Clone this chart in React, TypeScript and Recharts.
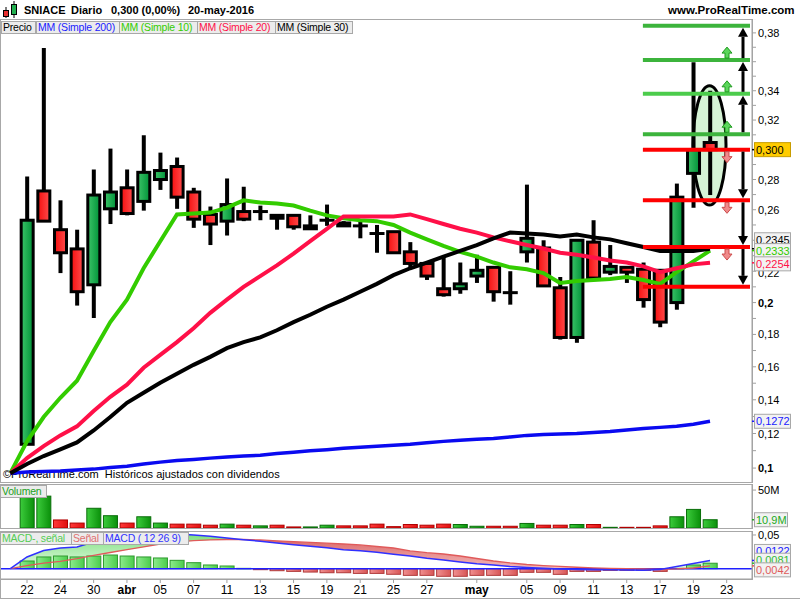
import React from 'react'
import {
  ComposedChart,
  Bar,
  Line,
  Area,
  XAxis,
  YAxis,
  ReferenceLine,
  ReferenceArea,
  ReferenceDot,
} from 'recharts'

const FONT = '"Liberation Sans", Arial, sans-serif'

// ProRealTime's price axis is a bit compressed at the top, a pow scale (0.85) fits it
const EXP = 0.85
const T = (v: number) => Math.pow(v, EXP)
const INV = (t: number) => Math.pow(t, 1 / EXP)

const X_MIN = -1.561
const X_MAX = 43.52

// 42 sessions, 22-mar-2016 .. 20-may-2016
const OPEN = [
  0.1137, 0.2724, 0.2469, 0.2344, 0.2113, 0.2606, 0.2745, 0.2655, 0.28, 0.2887,
  0.2717, 0.2569, 0.2525, 0.2588, 0.2588, 0.2563, 0.2563, 0.2475, 0.2531, 0.2513,
  0.2494, 0.2444, 0.2456, 0.2325, 0.225, 0.2088, 0.2088, 0.2169, 0.2225, 0.2063,
  0.2325, 0.235, 0.2094, 0.1781, 0.2388, 0.2194, 0.2225, 0.2213, 0.2206, 0.2,
  0.2841, 0.3048,
]
const HIGH = [
  0.282, 0.3695, 0.2662, 0.2469, 0.2867, 0.3007, 0.2867, 0.3097, 0.298, 0.2947,
  0.2745, 0.2621, 0.2807, 0.2752, 0.2627, 0.2569, 0.2563, 0.2563, 0.2634, 0.2525,
  0.2538, 0.25, 0.2456, 0.2388, 0.225, 0.2294, 0.2256, 0.2306, 0.2225, 0.22,
  0.2766, 0.24, 0.2163, 0.24, 0.2531, 0.2369, 0.2225, 0.2256, 0.2206, 0.2773,
  0.3596, 0.34,
]
const LOW = [
  0.1137, 0.2525, 0.2188, 0.1981, 0.1903, 0.2506, 0.2563, 0.2594, 0.2731, 0.2606,
  0.2481, 0.2369, 0.2431, 0.2525, 0.2531, 0.2469, 0.2469, 0.2475, 0.2494, 0.2494,
  0.2413, 0.2319, 0.2319, 0.2219, 0.2144, 0.2038, 0.2056, 0.2125, 0.2006, 0.1987,
  0.2256, 0.2106, 0.1768, 0.1748, 0.2156, 0.2175, 0.2125, 0.1968, 0.1845, 0.1955,
  0.2613, 0.2697,
]
const CLOSE = [
  0.2531, 0.2525, 0.2319, 0.2069, 0.2697, 0.2717, 0.2575, 0.2848, 0.286, 0.2683,
  0.2538, 0.2506, 0.2634, 0.2538, 0.2588, 0.2544, 0.2488, 0.2494, 0.2531, 0.2494,
  0.2494, 0.2444, 0.2319, 0.225, 0.2169, 0.205, 0.2119, 0.2206, 0.2069, 0.2063,
  0.2413, 0.2106, 0.1781, 0.24, 0.2156, 0.2231, 0.2194, 0.2019, 0.1877, 0.2683,
  0.3, 0.3,
]

// moving averages: first value is the last bar before the suspension ended (index -1)
const MA200 = [
  0.0971, 0.0977, 0.098, 0.0983, 0.0989, 0.0994, 0.1003, 0.1011, 0.1023, 0.1034,
  0.1043, 0.1049, 0.1057, 0.1063, 0.1069, 0.1074, 0.1083, 0.1091, 0.11, 0.1106,
  0.1114, 0.112, 0.1126, 0.1131, 0.1137, 0.1146, 0.1154, 0.116, 0.1166, 0.1171,
  0.118, 0.1189, 0.1194, 0.1197, 0.12, 0.1206, 0.1212, 0.1221, 0.123, 0.1236,
  0.1242, 0.1255, 0.1272,
]
const MA10 = [
  0.0971, 0.1154, 0.1297, 0.1412, 0.1515, 0.1697, 0.1877, 0.2019, 0.2219, 0.2394,
  0.2569, 0.2575, 0.2581, 0.2614, 0.2662, 0.2648, 0.2641, 0.2628, 0.2594, 0.2563,
  0.2544, 0.2531, 0.2525, 0.25, 0.245, 0.2406, 0.2363, 0.2325, 0.2294, 0.2256,
  0.2225, 0.2213, 0.2188, 0.2125, 0.2138, 0.2144, 0.215, 0.2163, 0.2144, 0.2119,
  0.2194, 0.2263, 0.2333,
]
const MA20 = [
  0.0971, 0.1057, 0.1126, 0.1189, 0.1242, 0.1333, 0.1418, 0.1491, 0.1594, 0.1673,
  0.1752, 0.1839, 0.1935, 0.2019, 0.21, 0.2169, 0.2238, 0.2313, 0.2394, 0.2475,
  0.2556, 0.2556, 0.2556, 0.2556, 0.2569, 0.2538, 0.2506, 0.2475, 0.245, 0.2419,
  0.2394, 0.2369, 0.2347, 0.2319, 0.2306, 0.2288, 0.2269, 0.2256, 0.2231, 0.2194,
  0.2219, 0.2244, 0.2254,
]
const MA30 = [
  0.0971, 0.1023, 0.1069, 0.1108, 0.1148, 0.1218, 0.1297, 0.1382, 0.1442, 0.1503,
  0.1558, 0.1612, 0.1661, 0.1715, 0.1752, 0.1782, 0.1826, 0.1877, 0.1923, 0.1974,
  0.2019, 0.2069, 0.2119, 0.2175, 0.2219, 0.2256, 0.2294, 0.2331, 0.2369, 0.2413,
  0.245, 0.2444, 0.2438, 0.2425, 0.2438, 0.2419, 0.2406, 0.2381, 0.2356, 0.2331,
  0.2331, 0.2331, 0.2345,
]

// volume in millions, 1 = green bar
const VOLUME = [
  42, 42, 10.6, 6.5, 26, 16.2, 6.5, 14.8, 6.5, 5.1,
  5.1, 3.7, 5.1, 3.7, 2.8, 3.7, 1.4, 1.4, 3.7, 2.8,
  2.8, 5.1, 1.8, 4.6, 3.7, 5.1, 4.6, 2.3, 2.3, 2.3,
  6, 3.7, 3.7, 4.6, 4.6, 0.9, 0.9, 0.9, 2.8, 14.8,
  24.5, 10.9,
]
const VOL_UP = [
  1, 1, 0, 0, 1, 1, 0, 1, 1, 0,
  0, 0, 1, 0, 1, 0, 0, 1, 1, 0,
  0, 0, 0, 0, 0, 0, 1, 1, 0, 0,
  1, 0, 0, 1, 0, 1, 0, 0, 0, 1,
  1, 1,
]

// MACD (12 26 9), lines start at index -1
const MACD = [
  0, 0.0174, 0.027, 0.0307, 0.0322, 0.0396, 0.0448, 0.0493, 0.0519, 0.0519,
  0.0515, 0.05, 0.048, 0.0455, 0.043, 0.0407, 0.0381, 0.0356, 0.0332, 0.0312,
  0.0282, 0.0267, 0.0243, 0.0214, 0.0188, 0.0154, 0.0129, 0.0099, 0.0074, 0.0055,
  0.0031, 0.0018, 0.0007, -0.0004, -0.0012, -0.0015, -0.0016, -0.0019, -0.0022, -0.0012,
  0.0033, 0.0077, 0.0122,
]
const SIGNAL = [
  0, 0.0047, 0.0082, 0.0107, 0.0148, 0.0196, 0.024, 0.0282, 0.0322, 0.0366,
  0.0396, 0.0415, 0.0426, 0.0433, 0.0433, 0.0426, 0.0414, 0.04, 0.0389, 0.0378,
  0.0366, 0.0352, 0.0329, 0.0307, 0.0263, 0.0237, 0.0218, 0.0188, 0.0151, 0.0114,
  0.0085, 0.0062, 0.0045, 0.0033, 0.0021, 0.0012, 0.0006, 0.0001, -0.0004, -0.0009,
  -0.0004, 0.001, 0.0042,
]
const HIST = [
  0.0114, 0.0174, 0.0188, 0.0174, 0.0188, 0.0203, 0.0188, 0.0174, 0.0159, 0.0124,
  0.0089, 0.0055, 0.004, 0.0005, -0.0015, -0.003, -0.004, -0.005, -0.006, -0.006,
  -0.007, -0.007, -0.0083, -0.0099, -0.0099, -0.0113, -0.0113, -0.0099, -0.0099, -0.0099,
  -0.0054, -0.0054, -0.0084, -0.004, -0.004, -0.0025, -0.0025, -0.0025, -0.004, 0.0005,
  0.0055, 0.0081,
]

// drawn support / resistance levels
const GREEN_LEVELS = [0.3849, 0.3611, 0.3379, 0.3104]
const RED_LEVELS = [0.3, 0.2662, 0.2356, 0.21]
const OVAL = { x1: 39.98, x2: 41.96, lo: 0.2631, hi: 0.3435 }

const PRICE_TICKS = [
  0.1, 0.11, 0.12, 0.13, 0.14, 0.15, 0.16, 0.17, 0.18, 0.19, 0.2, 0.21, 0.22, 0.23, 0.24,
  0.25, 0.26, 0.27, 0.28, 0.29, 0.3, 0.31, 0.32, 0.33, 0.34, 0.35, 0.36, 0.37, 0.38, 0.39,
]
// 0,24 / 0,30 / 0,36 sit under the value boxes in the original, so they are not written
const PRICE_LABELED = [0.1, 0.12, 0.14, 0.16, 0.18, 0.2, 0.22, 0.26, 0.28, 0.32, 0.34, 0.38]
const PRICE_LABEL_TEXT = ['0,1', '0,12', '0,14', '0,16', '0,18', '0,2', '0,22', '0,26', '0,28', '0,32', '0,34', '0,38']

const X_TICKS = [0, 2, 4, 6, 8, 10, 12, 14, 16, 18, 20, 22, 24, 27, 30, 32, 34, 36, 38, 40, 42]
const X_TICK_TEXT = ['22', '24', '30', 'abr', '05', '07', '11', '13', '15', '19', '21', '25', '27', 'may', '05', '09', '11', '13', '17', '19', '23']

const priceRows = MA10.map((_, k) => {
  const i = k - 1
  const row: any = {
    x: i,
    ma200: T(MA200[k]),
    ma10: T(MA10[k]),
    ma20: T(MA20[k]),
    ma30: T(MA30[k]),
  }
  if (i >= 0) {
    row.o = OPEN[i]
    row.h = HIGH[i]
    row.l = LOW[i]
    row.c = CLOSE[i]
    row.range = [T(LOW[i]), T(HIGH[i])]
  }
  return row
})

const volRows = VOLUME.map((v, i) => ({ x: i, vol: v, up: VOL_UP[i] === 1 }))

const macdRows = MACD.map((m, k) => {
  const i = k - 1
  const s = SIGNAL[k]
  const row: any = {
    x: i,
    macd: m,
    sig: s,
    upBand: m >= s ? [s, m] : [s, s],
    dnBand: m < s ? [m, s] : [s, s],
  }
  if (i >= 0) row.hist = HIST[i]
  return row
})

const Candle = (p: any) => {
  const { x, y, width, height, payload } = p
  if (!payload || payload.o == null || !isFinite(y)) return null
  const top = Math.min(y, y + height)
  const h = Math.abs(height)
  const hiT = T(payload.h)
  const loT = T(payload.l)
  const py = (v: number) => top + ((hiT - T(v)) / (hiT - loT || 1)) * h
  const cx = x + width / 2
  const yo = py(payload.o)
  const yc = py(payload.c)
  const up = payload.c > payload.o
  const flat = payload.c === payload.o
  return (
    <g>
      <line x1={cx} x2={cx} y1={top} y2={top + h} stroke="#000" strokeWidth={4} />
      {flat ? (
        <line x1={x} x2={x + width} y1={yo} y2={yo} stroke="#000" strokeWidth={3} />
      ) : (
        <rect
          x={x + 1.5}
          y={Math.min(yo, yc)}
          width={width - 3}
          height={Math.max(Math.abs(yo - yc), 1)}
          fill={up ? 'url(#candleUp)' : 'url(#candleDown)'}
          stroke="#000"
          strokeWidth={3}
        />
      )}
    </g>
  )
}

const VolBar = (p: any) => {
  const { x, y, width, height, payload } = p
  if (!payload || !isFinite(y)) return null
  const top = Math.min(y, y + height)
  return (
    <rect
      x={x + 0.5}
      y={top}
      width={width - 1}
      height={Math.abs(height)}
      fill={payload.up ? 'url(#volUp)' : 'url(#volDown)'}
      stroke={payload.up ? '#0a6e0a' : '#b00000'}
      strokeWidth={1}
    />
  )
}

const HistBar = (p: any) => {
  const { x, y, width, height, payload } = p
  if (!payload || payload.hist == null || !isFinite(y)) return null
  const top = Math.min(y, y + height)
  const pos = payload.hist >= 0
  return (
    <rect
      x={x + 0.5}
      y={top}
      width={width - 1}
      height={Math.max(Math.abs(height), 0.5)}
      fill={pos ? 'url(#histUp)' : 'url(#histDown)'}
      stroke={pos ? '#2f9a2f' : '#b03a3a'}
      strokeWidth={1}
    />
  )
}

const BigArrow = (p: any) => {
  const { x1, y1, y2 } = p
  if (!isFinite(y1) || !isFinite(y2)) return null
  const dir = y2 < y1 ? -1 : 1
  const tip = y2 - dir * 2
  const start = y1 + dir * 2
  const base = tip - dir * 9
  return (
    <g>
      <line x1={x1} x2={x1} y1={start} y2={base} stroke="#000" strokeWidth={3} />
      <polygon points={`${x1 - 5},${base} ${x1 + 5},${base} ${x1},${tip}`} fill="#000" />
    </g>
  )
}

const SmallArrow = (p: any) => {
  const { cx, cy, up } = p
  if (!isFinite(cx) || !isFinite(cy)) return null
  const d = up ? -1 : 1
  const a = cy + d * 2
  const m = cy + d * 7
  const t = cy + d * 13
  const pts = [
    [cx - 2, a], [cx + 2, a], [cx + 2, m], [cx + 5, m], [cx, t], [cx - 5, m], [cx - 2, m],
  ]
  return (
    <polygon
      points={pts.map((q) => q.join(',')).join(' ')}
      fill={up ? '#5bd65b' : '#f08a8a'}
      stroke={up ? '#1f9a1f' : '#cc4b4b'}
      strokeWidth={1}
    />
  )
}

const ValueBox = (p: any) => {
  const { viewBox, boxText, color, bg = '#f2f2f2', border = '#a8a8a8', shift = 0, w = 36 } = p
  if (!viewBox) return null
  const ax = viewBox.x + viewBox.width
  const cy = viewBox.y + shift
  return (
    <g>
      <line x1={ax} x2={ax + 4} y1={viewBox.y} y2={viewBox.y} stroke={color} strokeWidth={1.5} />
      <rect x={ax + 2.5} y={cy - 7} width={w} height={14} fill={bg} stroke={border} />
      <text x={ax + 4} y={cy + 4} fontSize={11} fill={color} fontFamily={FONT}>
        {boxText}
      </text>
    </g>
  )
}

const PriceTick = (p: any) => {
  const { x, y, payload } = p
  const v = INV(payload.value)
  const idx = PRICE_LABELED.findIndex((t) => Math.abs(t - v) < 0.001)
  if (idx < 0) return null
  const txt = PRICE_LABEL_TEXT[idx]
  const bold = txt === '0,2' || txt === '0,1'
  return (
    <text x={x} y={y} dy={txt === '0,22' ? 6 : 4} fontSize={11} fill="#000" fontWeight={bold ? 'bold' : 'normal'} fontFamily={FONT}>
      {txt}
    </text>
  )
}

const SimpleTick = (p: any) => {
  const { x, y, label } = p
  return (
    <text x={x} y={y} dy={4} fontSize={11} fill="#000" fontFamily={FONT}>
      {label}
    </text>
  )
}

const XTick = (p: any) => {
  const { x, y, payload } = p
  const idx = X_TICKS.indexOf(payload.value)
  const txt = X_TICK_TEXT[idx]
  const bold = txt === 'abr' || txt === 'may'
  return (
    <text x={x} y={y} dy={9} textAnchor="middle" fontSize={12} fill="#000" fontWeight={bold ? 'bold' : 'normal'} fontFamily={FONT}>
      {txt}
    </text>
  )
}

const box = (left: number, top: number, width: number, height: number): React.CSSProperties => ({
  position: 'absolute',
  left,
  top,
  width,
  height,
  boxSizing: 'border-box',
  border: '1px solid #a8a8a8',
})

const tag = (left: number, width: number, color: string): React.CSSProperties => ({
  position: 'absolute',
  left,
  top: 0,
  width,
  height: 13,
  boxSizing: 'border-box',
  border: '1px solid #a8a8a8',
  background: '#ececec',
  color,
  fontSize: 10.5,
  letterSpacing: -0.2,
  lineHeight: '11px',
  paddingLeft: 1,
  whiteSpace: 'nowrap',
  overflow: 'hidden',
})

export default function App() {
  return (
    <div style={{ position: 'absolute', left: 0, top: 0, width: 800, height: 600, background: '#fff', fontFamily: FONT, overflow: 'hidden' }}>
      {/* frames */}
      <div style={box(0, 19, 753, 464)} />
      <div style={box(0, 484, 753, 45)} />
      <div style={box(0, 531, 753, 49)} />
      <div style={{ position: 'absolute', left: 0, top: 598, width: 800, height: 1, background: '#a8a8a8' }} />
      <div style={{ position: 'absolute', left: 0, top: 579, width: 1, height: 20, background: '#a8a8a8' }} />

      {/* header */}
      <svg width={20} height={19} style={{ position: 'absolute', left: 0, top: 0 }}>
        <line x1={6} x2={6} y1={7} y2={18} stroke="#000" />
        <rect x={3.5} y={10.5} width={5} height={6} fill="#e83030" stroke="#000" />
        <line x1={14} x2={14} y1={1} y2={18} stroke="#000" />
        <rect x={11.5} y={4.5} width={5} height={10} fill="#22b050" stroke="#000" />
      </svg>
      <div style={{ position: 'absolute', left: 24, top: 4, fontSize: 11, fontWeight: 'bold', whiteSpace: 'nowrap' }}>SNIACE</div>
      <div style={{ position: 'absolute', left: 71, top: 4, fontSize: 11, fontWeight: 'bold', whiteSpace: 'nowrap' }}>Diario</div>
      <div style={{ position: 'absolute', left: 111, top: 4, fontSize: 11, fontWeight: 'bold', whiteSpace: 'nowrap' }}>0,300 (0,00%)</div>
      <div style={{ position: 'absolute', left: 188, top: 4, fontSize: 11, fontWeight: 'bold', whiteSpace: 'nowrap' }}>20-may-2016</div>
      <div style={{ position: 'absolute', left: 668, top: 4, fontSize: 11.5, fontWeight: 'bold', whiteSpace: 'nowrap' }}>www.ProRealTime.com</div>

      <div style={{ position: 'absolute', left: 3, top: 468, fontSize: 11, whiteSpace: 'nowrap', color: '#000' }}>
        ©ProRealTime.com&nbsp; Históricos ajustados con dividendos
      </div>

      {/* price pane */}
      <div style={{ position: 'absolute', left: 0, top: 19 }}>
        <ComposedChart width={800} height={463} data={priceRows} margin={{ top: 0, right: 0, bottom: 0, left: 1 }}>
          <defs>
            <linearGradient id="candleUp" x1="0" y1="0" x2="1" y2="0">
              <stop offset="0%" stopColor="#3cc468" />
              <stop offset="100%" stopColor="#009238" />
            </linearGradient>
            <linearGradient id="candleDown" x1="0" y1="0" x2="1" y2="0">
              <stop offset="0%" stopColor="#f50f0f" />
              <stop offset="100%" stopColor="#ff4c4c" />
            </linearGradient>
          </defs>
          <XAxis dataKey="x" type="number" domain={[X_MIN, X_MAX]} allowDataOverflow hide />
          <YAxis
            orientation="right"
            type="number"
            width={48}
            domain={[T(0.0921), T(0.3897)]}
            allowDataOverflow
            ticks={PRICE_TICKS.map(T)}
            interval={0}
            tick={<PriceTick />}
            tickSize={4}
            tickMargin={2}
            stroke="#a0a0a0"
          />
          <ReferenceArea
            x1={OVAL.x1}
            x2={OVAL.x2}
            y1={T(OVAL.lo)}
            y2={T(OVAL.hi)}
            shape={(p: any) => (
              <ellipse
                cx={p.x + p.width / 2}
                cy={p.y + p.height / 2}
                rx={Math.abs(p.width) / 2}
                ry={Math.abs(p.height) / 2}
                fill="#d6f3d6"
                stroke="#000"
                strokeWidth={3}
              />
            )}
          />
          <Bar dataKey="range" barSize={15} shape={(p: any) => <Candle {...p} />} isAnimationActive={false} />
          <Line dataKey="ma200" stroke="#0a0af0" strokeWidth={3.5} dot={false} activeDot={false} isAnimationActive={false} />
          <Line dataKey="ma10" stroke="#33cc00" strokeWidth={4} dot={false} activeDot={false} isAnimationActive={false} />
          <Line dataKey="ma20" stroke="#ff1048" strokeWidth={4} dot={false} activeDot={false} isAnimationActive={false} />
          <Line dataKey="ma30" stroke="#000000" strokeWidth={4} dot={false} activeDot={false} isAnimationActive={false} />

          {GREEN_LEVELS.map((v, i) => (
            <ReferenceLine
              key={'g' + i}
              segment={[{ x: 36.97, y: T(v) }, { x: 43.4, y: T(v) }]}
              stroke={i === 2 ? '#4ccc4c' : '#3cb43c'}
              strokeWidth={4}
            />
          ))}
          {RED_LEVELS.map((v, i) => (
            <ReferenceLine key={'r' + i} segment={[{ x: 36.97, y: T(v) }, { x: 43.4, y: T(v) }]} stroke="#ff0000" strokeWidth={4} />
          ))}
          {GREEN_LEVELS.slice(1).map((v, i) => (
            <ReferenceLine
              key={'ua' + i}
              segment={[{ x: 42.98, y: T(v) }, { x: 42.98, y: T(GREEN_LEVELS[i]) }]}
              shape={(p: any) => <BigArrow {...p} />}
            />
          ))}
          {RED_LEVELS.slice(0, 3).map((v, i) => (
            <ReferenceLine
              key={'da' + i}
              segment={[{ x: 42.98, y: T(v) }, { x: 42.98, y: T(RED_LEVELS[i + 1]) }]}
              shape={(p: any) => <BigArrow {...p} />}
            />
          ))}
          {GREEN_LEVELS.slice(1).map((v, i) => (
            <ReferenceDot key={'us' + i} x={42.02} y={T(v)} shape={(p: any) => <SmallArrow {...p} up />} />
          ))}
          {RED_LEVELS.slice(0, 3).map((v, i) => (
            <ReferenceDot key={'ds' + i} x={42.02} y={T(v)} shape={(p: any) => <SmallArrow {...p} up={false} />} />
          ))}

          <ReferenceLine y={T(0.3)} stroke="none" zIndex={2500} label={<ValueBox boxText="0,300" color="#000" bg="#ffcc00" border="#c89c00" />} />
          <ReferenceLine y={T(0.2345)} stroke="none" zIndex={2500} label={<ValueBox boxText="0,2345" color="#000" shift={-9} />} />
          <ReferenceLine y={T(0.2333)} stroke="none" zIndex={2500} label={<ValueBox boxText="0,2333" color="#33cc00" />} />
          <ReferenceLine y={T(0.2254)} stroke="none" zIndex={2500} label={<ValueBox boxText="0,2254" color="#ff1048" shift={1} />} />
          <ReferenceLine y={T(0.1272)} stroke="none" zIndex={2500} label={<ValueBox boxText="0,1272" color="#1a1aff" />} />
        </ComposedChart>
      </div>

      <div style={{ position: 'absolute', left: 1, top: 21, height: 13, width: 360 }}>
        <div style={tag(0, 35, '#000')}>Precio</div>
        <div style={tag(35, 84, '#1a1aff')}>MM (Simple 200)</div>
        <div style={tag(118, 79, '#33cc00')}>MM (Simple 10)</div>
        <div style={tag(196, 79, '#ff1048')}>MM (Simple 20)</div>
        <div style={tag(274, 78, '#000')}>MM (Simple 30)</div>
      </div>

      {/* volume pane */}
      <div style={{ position: 'absolute', left: 0, top: 484 }}>
        <ComposedChart width={800} height={44} data={volRows} margin={{ top: 0, right: 0, bottom: 0, left: 1 }}>
          <defs>
            <linearGradient id="volUp" x1="0" y1="0" x2="1" y2="0">
              <stop offset="0%" stopColor="#3ccc3c" />
              <stop offset="100%" stopColor="#0a900a" />
            </linearGradient>
            <linearGradient id="volDown" x1="0" y1="0" x2="1" y2="0">
              <stop offset="0%" stopColor="#ff3a3a" />
              <stop offset="100%" stopColor="#e01010" />
            </linearGradient>
          </defs>
          <XAxis dataKey="x" type="number" domain={[X_MIN, X_MAX]} allowDataOverflow hide />
          <YAxis
            orientation="right"
            type="number"
            width={48}
            domain={[0, 58]}
            allowDataOverflow
            ticks={[50]}
            interval={0}
            tick={<SimpleTick label="50M" />}
            tickSize={4}
            tickMargin={2}
            stroke="#a0a0a0"
          />
          <Bar dataKey="vol" barSize={15} shape={(p: any) => <VolBar {...p} />} isAnimationActive={false} />
          <ReferenceLine y={10.9} stroke="none" zIndex={2500} label={<ValueBox boxText="10,9M" color="#22aa22" w={33} shift={0} />} />
        </ComposedChart>
      </div>
      <div style={{ position: 'absolute', left: 0, top: 485, height: 13 }}>
        <div style={tag(0, 47, '#22a022')}>Volumen</div>
      </div>

      {/* MACD pane (svg starts 7px higher so the 0,05 label is not clipped) */}
      <div style={{ position: 'absolute', left: 0, top: 524 }}>
        <ComposedChart width={800} height={76} data={macdRows} margin={{ top: 7, right: 0, bottom: 0, left: 1 }}>
          <defs>
            <linearGradient id="gBand" x1="0" y1="0" x2="0" y2="1">
              <stop offset="0%" stopColor="#6fdc6f" />
              <stop offset="100%" stopColor="#e4fae4" />
            </linearGradient>
            <linearGradient id="rBand" x1="0" y1="0" x2="0" y2="1">
              <stop offset="0%" stopColor="#d85a5a" />
              <stop offset="100%" stopColor="#f4b4b4" />
            </linearGradient>
            <linearGradient id="histUp" x1="0" y1="0" x2="1" y2="0">
              <stop offset="0%" stopColor="#8ceb8c" />
              <stop offset="100%" stopColor="#4ccc4c" />
            </linearGradient>
            <linearGradient id="histDown" x1="0" y1="0" x2="1" y2="0">
              <stop offset="0%" stopColor="#f09090" />
              <stop offset="100%" stopColor="#d85656" />
            </linearGradient>
          </defs>
          <XAxis
            dataKey="x"
            type="number"
            domain={[X_MIN, X_MAX]}
            allowDataOverflow
            ticks={X_TICKS}
            interval={0}
            tick={<XTick />}
            tickSize={4}
            tickMargin={2}
            height={21}
            stroke="#a0a0a0"
          />
          <YAxis
            orientation="right"
            type="number"
            width={48}
            domain={[-0.0153, 0.0559]}
            allowDataOverflow
            ticks={[0.05]}
            interval={0}
            tick={<SimpleTick label="0,05" />}
            tickSize={4}
            tickMargin={2}
            stroke="#a0a0a0"
          />
          <Area dataKey="upBand" stroke="none" fill="url(#gBand)" fillOpacity={0.9} isAnimationActive={false} />
          <Area dataKey="dnBand" stroke="none" fill="url(#rBand)" fillOpacity={0.9} isAnimationActive={false} />
          <Bar dataKey="hist" barSize={15} shape={(p: any) => <HistBar {...p} />} isAnimationActive={false} />
          <ReferenceLine y={0} stroke="#2020ff" strokeWidth={1.5} />
          <Line dataKey="sig" stroke="#e05a5a" strokeWidth={1.3} dot={false} activeDot={false} isAnimationActive={false} />
          <Line dataKey="macd" stroke="#3030ff" strokeWidth={1.5} dot={false} activeDot={false} isAnimationActive={false} />
          <ReferenceLine y={0.0122} stroke="none" zIndex={2500} label={<ValueBox boxText="0,0122" color="#2020ff" shift={-9} />} />
          <ReferenceLine y={0.0081} stroke="none" zIndex={2500} label={<ValueBox boxText="0,0081" color="#33bb33" shift={-3} />} />
          <ReferenceLine y={0.0042} stroke="none" zIndex={2500} label={<ValueBox boxText="0,0042" color="#e05a5a" shift={4} />} />
        </ComposedChart>
      </div>
      <div style={{ position: 'absolute', left: 0, top: 532, height: 13 }}>
        <div style={tag(0, 72, '#55cc55')}>MACD-, señal</div>
        <div style={tag(71, 33, '#e07070')}>Señal</div>
        <div style={tag(103, 86, '#3333ff')}>MACD ( 12 26 9)</div>
      </div>
    </div>
  )
}
